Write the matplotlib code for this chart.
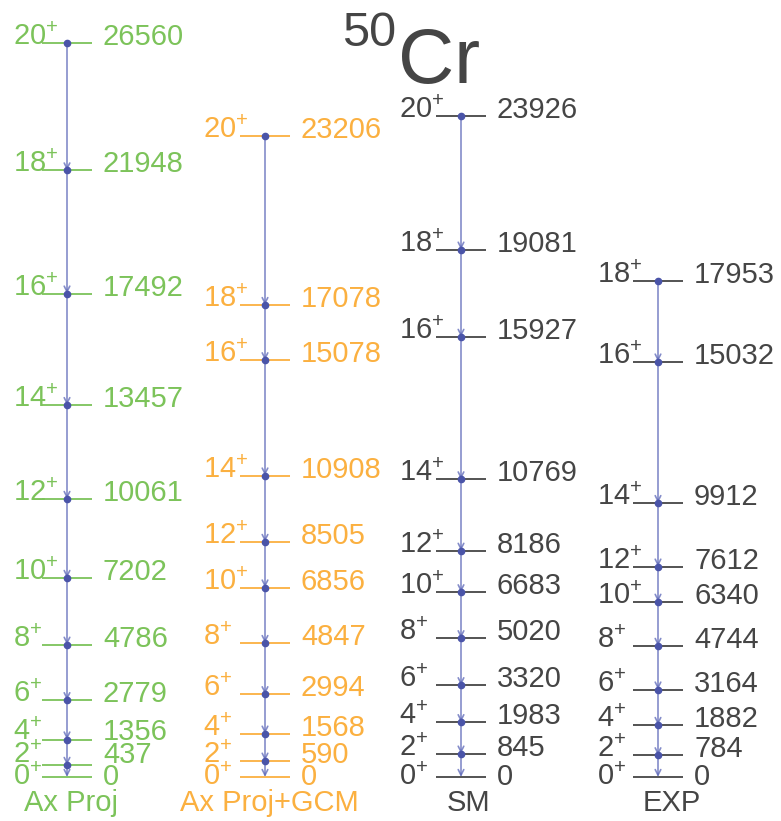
import numpy as np
import matplotlib.pyplot as plt

plt.rcParams['font.family'] = ['Liberation Sans', 'DejaVu Sans']

spins = [0, 2, 4, 6, 8, 10, 12, 14, 16, 18, 20]
ax_proj = [0, 437, 1356, 2779, 4786, 7202, 10061, 13457, 17492, 21948, 26560]
ax_gcm = [0, 590, 1568, 2994, 4847, 6856, 8505, 10908, 15078, 17078, 23206]
sm = [0, 845, 1983, 3320, 5020, 6683, 8186, 10769, 15927, 19081, 23926]
exp = [0, 784, 1882, 3164, 4744, 6340, 7612, 9912, 15032, 17953]
names = ['Ax Proj', 'Ax Proj+GCM', 'SM', 'EXP']

green = '#7cc35a'
orange = '#fbb040'
gray = '#454545'
blue = '#5b66b8'

# level data, column centre, colour, name x, spin label left edge
columns = [(ax_proj, 67, green, 71, 13), (ax_gcm, 265, orange, 269, 203),
           (sm, 461, gray, 469, 399), (exp, 658, gray, 672, 597)]

W, H = 781, 821
s = 734 / 26560.0  # px per keV
fig = plt.figure(figsize=(W / 100, H / 100), dpi=100)
ax = fig.add_axes([0, 0, 1, 1])
ax.set_xlim(0, W)
ax.set_ylim(-(H - 777) / s, 777 / s)
ax.axis('off')

fs = 21
off = 6 / s
gap = 22.5 / s
halfw = 25

for (lev, xc, col, xl, xs), name in zip(columns, names):
    lev = np.array(lev, dtype=float)
    ax.hlines(lev, xc - halfw, xc + halfw, color=col, lw=1.3, zorder=2)
    for i in range(len(lev) - 1, 0, -1):
        ax.annotate('', xy=(xc, lev[i - 1]), xytext=(xc, lev[i]),
                    arrowprops=dict(arrowstyle='->', color=blue, lw=1.2,
                                    alpha=0.75, shrinkA=0, shrinkB=0,
                                    mutation_scale=10), zorder=3)
    ax.plot([xc] * (len(lev) - 1), lev[1:], 'o', color='#4a54a8', ms=4.5, zorder=4)
    ly = [lev[0]]
    for e in lev[1:]:
        ly.append(max(e + off, ly[-1] + gap))
    for j, (e, y) in enumerate(zip(lev, ly)):
        ax.text(xs, y, r'$\mathregular{%d^{+}}$' % spins[j], color=col,
                fontsize=fs, ha='left', va='center')
        ax.text(xc + halfw + 11, y, '%d' % e, color=col, fontsize=fs,
                ha='left', va='center')
    ax.text(xl, -(803 - 777) / s, name, color=col, fontsize=fs,
            ha='center', va='center')

ax.text(480, (777 - 62) / s, 'Cr', color=gray, fontsize=56,
        ha='right', va='center')
ax.text(396, (777 - 33) / s, '50', color=gray, fontsize=35,
        ha='right', va='center')

fig.savefig('out.png', dpi=100)
